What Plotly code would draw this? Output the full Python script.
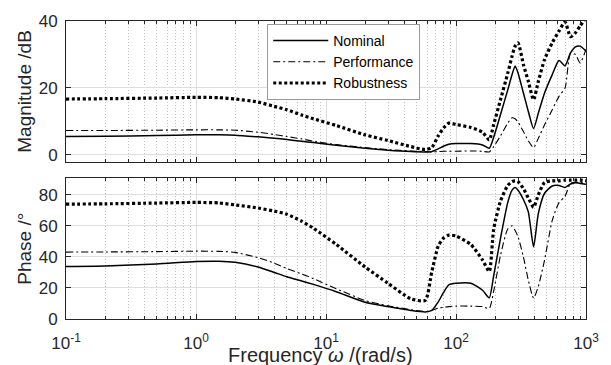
import plotly.graph_objects as go

# ---------------- data ----------------
freq = [0.1, 0.2, 0.5, 1, 1.5, 2, 3, 4, 5, 6.5, 8, 12, 20, 30, 45, 58, 65, 73, 80, 88, 100,
        130, 160, 180, 195, 220, 250, 270, 285, 300, 330, 360, 395, 430, 480,
        550, 620, 690, 760, 830, 900, 1000]

mag_nominal = [5.5, 5.6, 5.8, 6.0, 6.0, 5.9, 5.4, 5.0, 4.6, 4.1, 3.7, 2.9, 2.0, 1.4, 1.0, 0.9, 1.0,
               1.8, 2.6, 3.2, 3.4, 3.4, 3.0, 2.0, 5.3, 12.1, 19.4, 24.0, 26.6, 24.5,
               18.5, 13.0, 7.9, 12.5, 18.5, 24.0, 28.2, 26.6, 30.5, 32.3, 32.5, 31.0]
mag_performance = [7.3, 7.3, 7.4, 7.5, 7.5, 7.4, 6.8, 6.1, 5.5, 4.8, 4.1, 3.1, 2.2, 1.6, 1.2, 1.0, 0.9,
                   1.0, 1.1, 1.1, 1.1, 1.2, 1.1, 0.9, 2.5, 5.7, 9.5, 11.1, 10.8, 9.8,
                   7.0, 4.2, 2.2, 5.0, 9.0, 13.5, 17.5, 20.0, 30.4, 30.0, 27.5, 31.5]
mag_robustness = [16.7, 16.8, 17.0, 17.2, 17.1, 16.7, 15.8, 14.5, 13.5, 11.9, 10.8, 8.8, 6.0, 4.3, 2.5, 1.6, 2.2,
                  5.7, 8.0, 9.5, 9.1, 8.2, 6.8, 4.5, 9.1, 16.5, 24.4, 29.5, 32.5, 33.5,
                  27.0, 22.0, 16.5, 22.0, 28.5, 33.5, 37.0, 39.7, 35.3, 36.5, 38.5, 41.0]

phase_nominal = [33.9, 34.2, 35.5, 37.0, 37.2, 36.5, 33.5, 30.0, 27.2, 24.5, 22.3, 17.6, 10.8, 8.0, 5.5, 4.5, 5.5,
                 11.0, 17.0, 22.0, 23.0, 23.0, 18.5, 13.6, 28.0, 52.0, 75.0, 83.0, 84.7, 83.0,
                 77.0, 69.0, 46.5, 68.0, 81.0, 85.7, 86.0, 84.7, 87.0, 87.8, 87.5, 86.8]
phase_performance = [43.1, 43.2, 43.4, 43.7, 43.6, 42.9, 39.5, 36.0, 32.5, 29.0, 26.0, 19.5, 11.9, 8.5, 6.0, 4.8, 5.5,
                     7.0, 7.5, 8.0, 8.3, 8.3, 8.0, 6.8, 18.0, 41.0, 58.0, 60.0, 57.0, 53.0,
                     40.0, 25.0, 13.5, 21.0, 38.0, 63.5, 75.0, 79.0, 87.5, 88.0, 88.0, 87.5]
phase_robustness = [74.0, 74.2, 74.7, 75.1, 74.8, 73.5, 71.5, 69.5, 67.5, 63.0, 58.5, 48.0, 33.5, 23.0, 13.0, 12.0, 30.0,
                    47.0, 52.0, 54.0, 53.5, 48.0, 38.0, 30.6, 58.0, 76.0, 86.0, 88.5, 89.0, 88.5,
                    84.0, 78.0, 72.0, 80.0, 88.0, 89.0, 89.0, 89.5, 89.5, 89.5, 89.5, 89.0]

series_names = ["Nominal", "Performance", "Robustness"]

x_tickvals = [0.1, 1, 10, 100, 1000]
x_ticktext = ["10<sup>-1</sup>", "10<sup>0</sup>", "10<sup>1</sup>", "10<sup>2</sup>", "10<sup>3</sup>"]
mag_ticks = [0, 20, 40]
phase_ticks = [0, 20, 40, 60, 80]

x_title = "Frequency <i>ω</i> /(rad/s)"
mag_title = "Magnitude /dB"
phase_title = "Phase /°"

# ---------------- styling ----------------
FONT = "Liberation Sans, Arial, sans-serif"
AX = "#262626"
styles = [
    dict(color="black", width=1.5, dash="solid"),
    dict(color="black", width=1.1, dash="7px,3px,2px,3px"),
    dict(color="black", width=3.2, dash="3px,2.5px"),
]

minor_vals = [m * 10 ** e for e in range(-1, 3) for m in range(2, 10)]

fig = go.Figure()
mags = [mag_nominal, mag_performance, mag_robustness]
phases = [phase_nominal, phase_performance, phase_robustness]
for name, m, st in zip(series_names, mags, styles):
    fig.add_trace(go.Scatter(x=freq, y=m, name=name, mode="lines", line=st,
                             line_shape="spline", line_smoothing=0.6,
                             xaxis="x", yaxis="y"))
for name, p, st in zip(series_names, phases, styles):
    fig.add_trace(go.Scatter(x=freq, y=p, name=name, mode="lines", line=st,
                             line_shape="spline", line_smoothing=0.6, showlegend=False,
                             xaxis="x2", yaxis="y2"))

def xaxis(labels, anchor):
    return dict(type="log", range=[-1, 3], domain=[0, 1], anchor=anchor,
                showline=True, linecolor=AX, linewidth=1, mirror="ticks",
                ticks="inside", ticklen=5, tickcolor=AX, tickwidth=1,
                tickmode="array", tickvals=x_tickvals, ticktext=x_ticktext,
                showticklabels=labels, tickfont=dict(family=FONT, size=17, color=AX),
                ticklabelstandoff=9,
                showgrid=True, gridcolor="#dedede", gridwidth=1, zeroline=False,
                minor=dict(tickmode="array", tickvals=minor_vals, ticks="inside",
                           ticklen=3, tickcolor=AX, showgrid=True,
                           gridcolor="#c2c2c2", griddash="1px,2px", gridwidth=1))

def yaxis(rng, ticks, domain, anchor):
    return dict(range=rng, domain=domain, anchor=anchor, showline=True, linecolor=AX,
                linewidth=1, mirror="ticks", ticks="inside", ticklen=5, tickcolor=AX,
                tickmode="array", tickvals=ticks,
                tickfont=dict(family=FONT, size=17, color=AX), ticklabelstandoff=4,
                showgrid=True, gridcolor="#dedede", gridwidth=1, zeroline=False)

fig.update_layout(
    width=611, height=365,
    margin=dict(l=66, r=14, t=19, b=45),
    paper_bgcolor="white", plot_bgcolor="white",
    font=dict(family=FONT, color=AX),
    xaxis=xaxis(False, "y"),
    yaxis=yaxis([-2, 40], mag_ticks, [0.528, 1], "x"),
    xaxis2=xaxis(True, "y2"),
    yaxis2=yaxis([0, 91], phase_ticks, [0, 0.474], "x2"),
    showlegend=True,
    legend=dict(x=0.387, y=0.99, xanchor="left", yanchor="top", bgcolor="white",
                bordercolor="#999999", borderwidth=1, font=dict(family=FONT, size=14, color="black"),
                itemwidth=55, tracegroupgap=0),
    annotations=[
        dict(text=x_title, xref="paper", yref="paper", x=0.49, y=-0.122,
             xanchor="center", yanchor="middle", showarrow=False,
             font=dict(family=FONT, size=20, color=AX)),
        dict(text=mag_title, xref="paper", yref="paper", x=-0.08, y=0.764,
             xanchor="center", yanchor="middle", textangle=-90, showarrow=False,
             font=dict(family=FONT, size=19, color=AX)),
        dict(text=phase_title, xref="paper", yref="paper", x=-0.08, y=0.237,
             xanchor="center", yanchor="middle", textangle=-90, showarrow=False,
             font=dict(family=FONT, size=19, color=AX)),
    ],
)

fig.write_html("out.html")
